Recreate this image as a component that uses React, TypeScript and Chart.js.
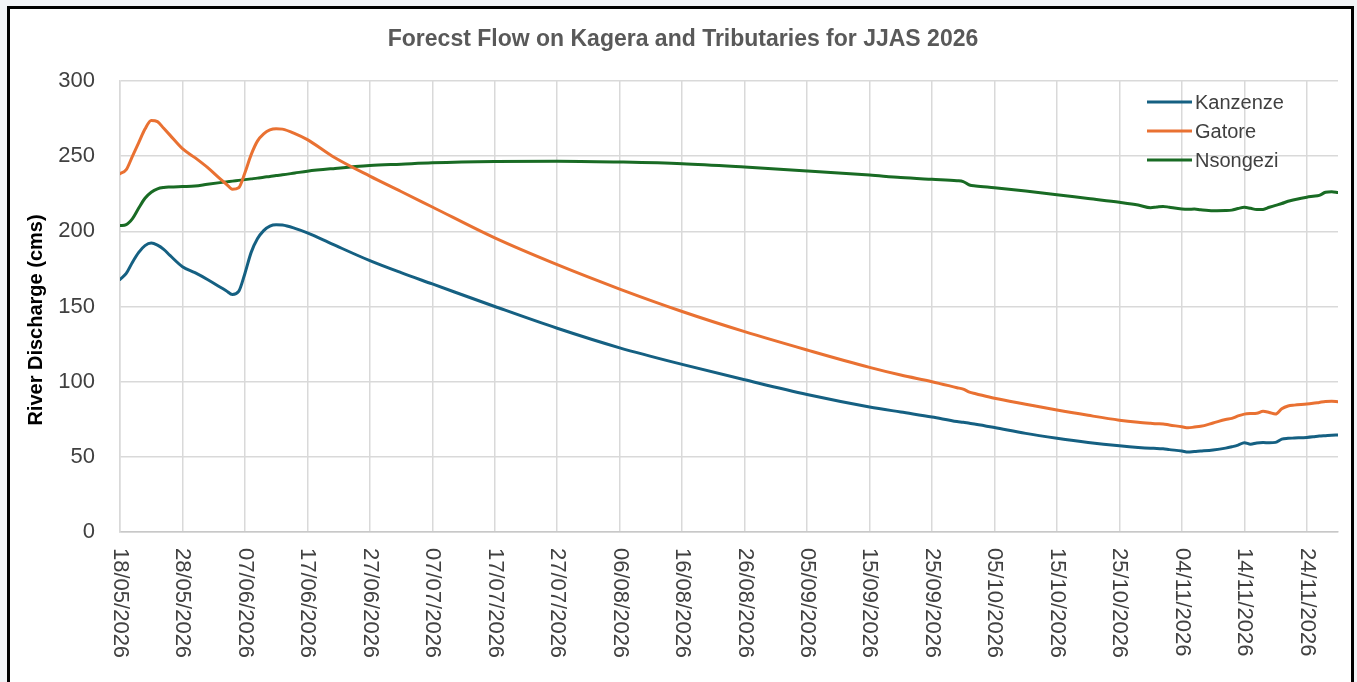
import { useEffect, useRef } from "react";
import { Chart, registerables } from "chart.js";

Chart.register(...registerables);

// Day offsets from 18/05/2026
const START_DATE = { year: 2026, month: 4, day: 18 };
const days = [
  0, 1, 2, 3, 4, 5, 6, 7, 8, 10, 12, 14, 16, 17, 18, 19, 20, 21, 22, 23, 24, 25, 26, 28, 30, 34, 40, 45, 50,
  60, 70, 80, 90, 100, 110, 120, 125, 130, 134, 135, 136, 137, 140, 145, 150, 155, 160, 163, 165, 166, 167,
  168, 170, 171, 172, 173, 175, 177, 178, 179, 180, 181, 182, 183, 184, 185, 186, 187, 188, 190, 191, 192,
  193, 194, 195,
];

const kanzenze = [
  168, 172, 179.5, 186, 190.5, 192.2, 190.8, 188, 184, 176.5, 172.5, 168, 163, 160.5, 158, 160, 172, 186, 195,
  200.5, 203.5, 204.4, 204.2, 202, 199, 191.5, 180.5, 172.5, 165,
  150, 135.5, 122.5, 111.5, 101.3, 91.5, 83.2, 79.8, 76.5, 73.5, 73, 72.3, 71.7, 69.5, 65.6, 62.4, 59.6, 57.3,
  56.2, 55.7, 55.6, 55.3, 54.8, 53.9, 53.2, 53.6, 53.9, 54.6, 55.8, 56.7, 57.8, 59.4, 58.4, 59.2, 59.5, 59.3,
  59.6, 61.8, 62.3, 62.5, 62.9, 63.3, 63.8, 64.1, 64.4, 64.5,
];

const gatore = [
  238.4, 241, 250, 259, 268, 273.8, 273, 268.5, 264, 255, 249, 242.5, 235, 231.5, 228, 229, 239, 251, 260,
  264.8, 267.5, 268.3, 268, 265, 261, 250, 236.7, 226.5, 216.2,
  195.6, 177.8, 161.6, 146.7, 133.3, 121.1, 109.5, 104.4, 100, 96, 95, 93, 92, 89, 85, 81.1, 77.6, 74.4, 73,
  72.3, 72, 71.9, 71.2, 70, 69.3, 69.8, 70.3, 72.5, 74.8, 75.6, 77.2, 78.4, 78.8, 79, 80.3, 79.5, 78.5, 82,
  83.8, 84.4, 85.1, 85.6, 86.2, 86.8, 87, 86.7,
];

const nsongezi = [
  203.8, 204.5, 208.5, 215.5, 222, 226, 228.3, 229.2, 229.5, 229.8, 230.1, 231.3, 232.4, 232.9, 233.4, 233.9,
  234.4, 234.9, 235.4, 236, 236.5, 237.1, 237.6, 238.8, 240, 241.7, 243.8, 244.7, 245.6,
  246.5, 246.7, 246.1, 245, 242.8, 240.2, 237.4, 235.8, 234.6, 233.7, 233.1, 230.8, 230.2, 229, 226.8, 224.4,
  221.8, 219.3, 217.5, 215.7, 216.2, 216.6, 216, 214.9, 214.7, 214.8, 214.3, 213.7, 213.8, 214.1, 215.2, 216,
  215.3, 214.5, 214.6, 216, 217.3, 218.5, 220, 221, 222.7, 223.3, 223.9, 226, 226.4, 225.8,
];

const seriesNames = ["Kanzenze", "Gatore", "Nsongezi"];
const seriesColors = ["#156082", "#E97132", "#196B24"];
const seriesValues = [kanzenze, gatore, nsongezi];

const TITLE = "Forecst Flow on Kagera and Tributaries for JJAS 2026";
const Y_TITLE = "River Discharge (cms)";
const FONT = '"Liberation Sans", Arial, sans-serif';

function formatDay(offset: number): string {
  const d = new Date(START_DATE.year, START_DATE.month, START_DATE.day + offset);
  const dd = String(d.getDate()).padStart(2, "0");
  const mm = String(d.getMonth() + 1).padStart(2, "0");
  return `${dd}/${mm}/${d.getFullYear()}`;
}

const overlayPlugin = {
  id: "overlay",
  afterDraw(chart: any) {
    const ctx = chart.ctx as CanvasRenderingContext2D;
    const xScale = chart.scales.x;
    const area = chart.chartArea;

    // Title
    ctx.save();
    ctx.font = `bold 23px ${FONT}`;
    ctx.fillStyle = "#595959";
    ctx.textAlign = "center";
    ctx.textBaseline = "alphabetic";
    ctx.fillText(TITLE, 683, 46);
    ctx.restore();

    // Y axis title
    ctx.save();
    ctx.translate(36, 320);
    ctx.rotate(-Math.PI / 2);
    ctx.font = `bold 20px ${FONT}`;
    ctx.fillStyle = "#000000";
    ctx.textAlign = "center";
    ctx.textBaseline = "middle";
    ctx.fillText(Y_TITLE, 0, 0);
    ctx.restore();

    // X tick labels, reading top to bottom
    ctx.save();
    ctx.font = `22px ${FONT}`;
    ctx.fillStyle = "#404040";
    ctx.textAlign = "left";
    ctx.textBaseline = "middle";
    for (const t of xScale.ticks) {
      const px = xScale.getPixelForValue(t.value);
      ctx.save();
      ctx.translate(px, area.bottom + 16);
      ctx.rotate(Math.PI / 2);
      ctx.fillText(formatDay(t.value), 0, 0);
      ctx.restore();
    }
    ctx.restore();

    // Legend
    ctx.save();
    ctx.font = `20px ${FONT}`;
    ctx.textAlign = "left";
    ctx.textBaseline = "middle";
    chart.data.datasets.forEach((ds: any, i: number) => {
      const y = 102 + i * 29;
      ctx.strokeStyle = ds.borderColor;
      ctx.lineWidth = 3;
      ctx.beginPath();
      ctx.moveTo(1147, y);
      ctx.lineTo(1192, y);
      ctx.stroke();
      ctx.fillStyle = "#404040";
      ctx.fillText(ds.label, 1195, y + 1);
    });
    ctx.restore();
  },
};

export default function App() {
  const canvasRef = useRef<HTMLCanvasElement>(null);

  useEffect(() => {
    if (!canvasRef.current) return;
    const chart = new Chart(canvasRef.current, {
      type: "line",
      data: {
        datasets: seriesNames.map((name, i) => ({
          label: name,
          data: days.map((d, j) => ({ x: d, y: seriesValues[i][j] })),
          borderColor: seriesColors[i],
          backgroundColor: seriesColors[i],
          borderWidth: 3,
          pointRadius: 0,
          cubicInterpolationMode: "monotone" as const,
          borderCapStyle: "round" as const,
          borderJoinStyle: "round" as const,
          fill: false,
        })),
      },
      options: {
        responsive: false,
        animation: false,
        devicePixelRatio: 1,
        layout: { padding: { left: 0, right: 19, top: 81, bottom: 0 } },
        plugins: {
          legend: { display: false },
          title: { display: false },
          tooltip: { enabled: false },
        },
        scales: {
          x: {
            type: "linear",
            min: 0,
            max: 195,
            ticks: { display: false, stepSize: 10, includeBounds: false },
            grid: { color: "#d9d9d9", lineWidth: 1.5, drawTicks: false },
            border: { color: "#c8c8c8", width: 1.5 },
            afterFit: (s: any) => {
              s.height = 150;
            },
          },
          y: {
            min: 0,
            max: 300,
            ticks: {
              stepSize: 50,
              padding: 25,
              color: "#404040",
              font: { family: FONT, size: 22 },
            },
            grid: { color: "#d9d9d9", lineWidth: 1.5, drawTicks: false },
            border: { color: "#d9d9d9", width: 1.5 },
            afterFit: (s: any) => {
              s.width = 120;
            },
          },
        },
      },
      plugins: [overlayPlugin],
    });
    return () => chart.destroy();
  }, []);

  return (
    <div
      style={{
        position: "fixed",
        left: 0,
        top: 0,
        width: 1357,
        height: 682,
        background: "#f2f4f7",
        overflow: "hidden",
      }}
    >
      <div
        style={{
          position: "absolute",
          left: 7,
          top: 6,
          width: 1347,
          height: 700,
          boxSizing: "border-box",
          border: "3px solid #000",
          borderBottom: "none",
          background: "#ffffff",
        }}
      />
      <canvas
        ref={canvasRef}
        width={1357}
        height={682}
        style={{ position: "absolute", left: 0, top: 0, width: 1357, height: 682 }}
      />
    </div>
  );
}
